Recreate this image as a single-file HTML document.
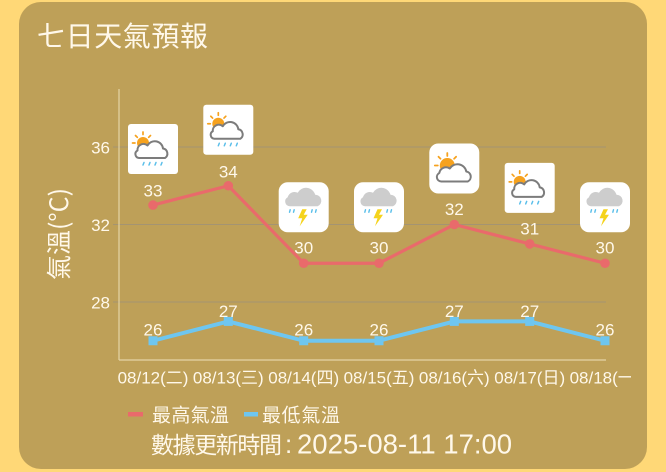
<!DOCTYPE html>
<html><head><meta charset="utf-8"><style>
html,body{margin:0;padding:0;background:#FFD877;width:666px;height:472px;overflow:hidden}
svg{display:block}
text{font-family:"Liberation Sans","Noto Sans CJK TC",sans-serif;fill:#FFF8EA}
.cjk{font-family:"Noto Sans CJK TC","Liberation Sans",sans-serif}
</style></head><body>
<svg width="666" height="472" viewBox="0 0 666 472" xmlns="http://www.w3.org/2000/svg">
<defs>
  <g id="sunrain">
    <rect x="0" y="0" width="50" height="50" rx="3" fill="#fff"/>
    <g stroke="#F6A21E" stroke-width="1.7" stroke-linecap="round">
      <line x1="15" y1="8" x2="15" y2="10.5"/>
      <line x1="7.5" y1="11.5" x2="9.3" y2="13.3"/>
      <line x1="22.5" y1="11.5" x2="20.7" y2="13.3"/>
      <line x1="4.5" y1="19" x2="7" y2="19"/>
    </g>
    <circle cx="15" cy="19" r="6" fill="#F6A21E"/>
    <path d="M11,34 A4,4 0 0 1 9.5,26.5 A6,6 0 0 1 19.5,21.5 A8.3,8.3 0 0 1 35,24.5 A5.2,5.2 0 0 1 37,34 Z" fill="#fff" stroke="#7C7C7C" stroke-width="2" stroke-linejoin="round"/>
    <g stroke="#5BBFEA" stroke-width="1.5" stroke-linecap="round">
      <line x1="16" y1="38.5" x2="15" y2="41"/>
      <line x1="22" y1="38.5" x2="21" y2="41"/>
      <line x1="28" y1="38.5" x2="27" y2="41"/>
      <line x1="34" y1="38.5" x2="33" y2="41"/>
    </g>
  </g>
  <g id="thunder">
    <rect x="0" y="0" width="50" height="50" rx="9" fill="#fff"/>
    <path d="M11,24 A4.8,4.8 0 0 1 9,15 A7,7 0 0 1 19,10.5 A9.5,9.5 0 0 1 36.5,12.5 A6,6 0 0 1 39,24 Z" fill="#CDCDCD"/>
    <g stroke="#5BBFEA" stroke-width="1.4" stroke-linecap="round">
      <line x1="11.5" y1="27.5" x2="10.8" y2="30"/>
      <line x1="15.5" y1="27.5" x2="14.8" y2="30"/>
      <line x1="33.5" y1="27.5" x2="32.8" y2="30"/>
      <line x1="37.5" y1="27.5" x2="36.8" y2="30"/>
    </g>
    <polygon points="23.5,27 19.5,36 23.5,36 21,44 29,32.5 25,32.5 28,27" fill="#F5D31C"/>
  </g>
  <g id="suncloud">
    <rect x="0" y="0" width="50" height="50" rx="9" fill="#fff"/>
    <g stroke="#F6A21E" stroke-width="1.8" stroke-linecap="round">
      <line x1="18" y1="9.5" x2="18" y2="12.5"/>
      <line x1="9.2" y1="13.2" x2="11.2" y2="15.2"/>
      <line x1="26.8" y1="13.2" x2="24.8" y2="15.2"/>
      <line x1="5.5" y1="22" x2="8.5" y2="22"/>
    </g>
    <circle cx="18" cy="22" r="7.5" fill="#F6A21E"/>
    <path d="M12,38 A4.5,4.5 0 0 1 10,29.5 A6.8,6.8 0 0 1 20.5,25 A9,9 0 0 1 37,28 A5.3,5.3 0 0 1 38.5,38 Z" fill="#fff" stroke="#7C7C7C" stroke-width="2" stroke-linejoin="round"/>
  </g>
  <clipPath id="xclip"><rect x="0" y="360" width="631" height="40"/></clipPath>
</defs>

<!-- card -->
<rect x="19" y="2" width="628" height="467" rx="22" fill="#BEA058"/>

<!-- title -->
<text class="cjk" x="37" y="35" font-size="28" dominant-baseline="central" textLength="171">七日天氣預報</text>

<!-- grid -->
<g stroke="#A49472" stroke-width="1">
  <line x1="113" y1="147" x2="606" y2="147"/>
  <line x1="113" y1="224.5" x2="606" y2="224.5"/>
  <line x1="113" y1="302" x2="606" y2="302"/>
</g>
<g stroke="#E4D4A6" stroke-width="1.2">
  <line x1="119" y1="89" x2="119" y2="360"/>
  <line x1="119" y1="360" x2="606" y2="360"/>
</g>

<!-- y tick labels -->
<g font-size="17" text-anchor="end" dominant-baseline="central">
  <text x="110" y="148">36</text>
  <text x="110" y="225.5">32</text>
  <text x="110" y="303">28</text>
</g>

<!-- y axis title -->
<text class="cjk" x="0" y="0" font-size="25" text-anchor="middle" dominant-baseline="central" transform="translate(58,234) rotate(-90)">氣溫(°C)</text>

<!-- icons -->
<use href="#sunrain" x="128" y="124"/>
<use href="#sunrain" x="203.3" y="104.75"/>
<use href="#thunder" x="278.7" y="182.25"/>
<use href="#thunder" x="354" y="182.25"/>
<use href="#suncloud" x="429.3" y="143.5"/>
<use href="#sunrain" x="504.7" y="162.9"/>
<use href="#thunder" x="580" y="182.25"/>

<!-- high line -->
<polyline points="153,205.1 228.3,185.75 303.7,263.25 379,263.25 454.3,224.5 529.7,243.9 605,263.25" fill="none" stroke="#E96A6B" stroke-width="3.2" stroke-linejoin="round"/>
<g fill="#E96A6B">
  <circle cx="153" cy="205.1" r="4.8"/>
  <circle cx="228.3" cy="185.75" r="4.8"/>
  <circle cx="303.7" cy="263.25" r="4.8"/>
  <circle cx="379" cy="263.25" r="4.8"/>
  <circle cx="454.3" cy="224.5" r="4.8"/>
  <circle cx="529.7" cy="243.9" r="4.8"/>
  <circle cx="605" cy="263.25" r="4.8"/>
</g>

<!-- low line -->
<polyline points="153,340.75 228.3,321.4 303.7,340.75 379,340.75 454.3,321.4 529.7,321.4 605,340.75" fill="none" stroke="#6EC6F0" stroke-width="4" stroke-linejoin="round"/>
<g fill="#6EC6F0">
  <rect x="148.5" y="336.25" width="9" height="9"/>
  <rect x="223.8" y="316.9" width="9" height="9"/>
  <rect x="299.2" y="336.25" width="9" height="9"/>
  <rect x="374.5" y="336.25" width="9" height="9"/>
  <rect x="449.8" y="316.9" width="9" height="9"/>
  <rect x="525.2" y="316.9" width="9" height="9"/>
  <rect x="600.5" y="336.25" width="9" height="9"/>
</g>

<!-- data labels -->
<g font-size="17" text-anchor="middle" dominant-baseline="central">
  <text x="153" y="191">33</text>
  <text x="228.3" y="172">34</text>
  <text x="303.7" y="248">30</text>
  <text x="379" y="248">30</text>
  <text x="454.3" y="209.5">32</text>
  <text x="529.7" y="229">31</text>
  <text x="605" y="248">30</text>
  <text x="153" y="330">26</text>
  <text x="228.3" y="311.5">27</text>
  <text x="303.7" y="330">26</text>
  <text x="379" y="330">26</text>
  <text x="454.3" y="311.5">27</text>
  <text x="529.7" y="311.5">27</text>
  <text x="605" y="330">26</text>
</g>

<!-- x labels -->
<g font-size="17" text-anchor="middle" dominant-baseline="central" clip-path="url(#xclip)">
  <text x="153" y="378">08/12(二)</text>
  <text x="228.3" y="378">08/13(三)</text>
  <text x="303.7" y="378">08/14(四)</text>
  <text x="379" y="378">08/15(五)</text>
  <text x="454.3" y="378">08/16(六)</text>
  <text x="529.7" y="378">08/17(日)</text>
  <text x="605" y="378">08/18(一)</text>
</g>

<!-- legend -->
<rect x="128" y="412" width="15" height="4.5" fill="#E96A6B"/>
<text class="cjk" x="152" y="414" font-size="19" dominant-baseline="central" textLength="77">最高氣溫</text>
<rect x="244" y="412" width="14" height="4.5" fill="#6EC6F0"/>
<text class="cjk" x="262" y="414" font-size="19" dominant-baseline="central" textLength="78">最低氣溫</text>

<!-- footer -->
<text class="cjk" x="151" y="443" font-size="23" dominant-baseline="central" textLength="131">數據更新時間</text>
<text x="285" y="444" font-size="26" dominant-baseline="central">:</text>
<text x="297" y="444" font-size="27.5" dominant-baseline="central">2025-08-11 17:00</text>
</svg>
</body></html>
